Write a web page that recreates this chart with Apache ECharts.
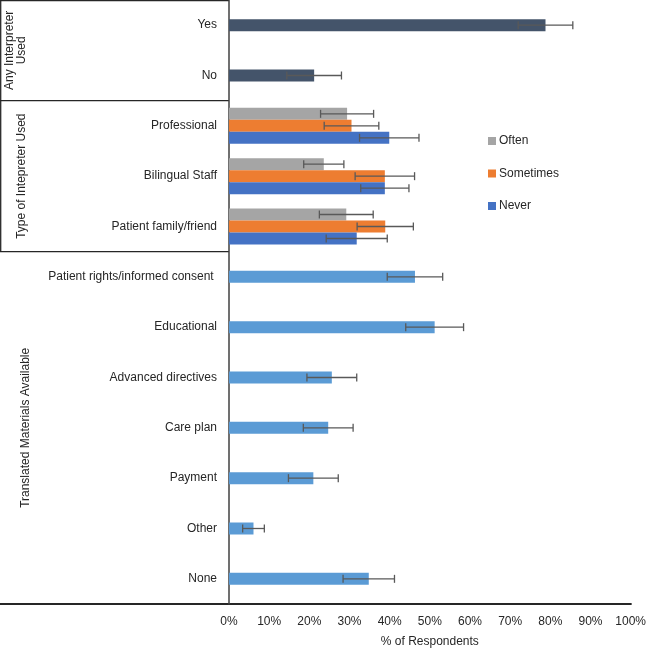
<!DOCTYPE html>
<html>
<head>
<meta charset="utf-8">
<script src="https://cdn.jsdelivr.net/npm/echarts@6/dist/echarts.min.js"></script>
<style>html,body{margin:0;padding:0;background:#fff;}#c{width:649px;height:653px;}</style>
</head>
<body>
<div id="c"></div>
<script>
// ---- data ----
var categories = ['Yes', 'No', 'Professional', 'Bilingual Staff', 'Patient family/friend',
  'Patient rights/informed consent ', 'Educational', 'Advanced directives', 'Care plan', 'Payment', 'Other', 'None'];
var anyValues = [78.8, 21.2];
var anyErr = [6.8, 6.8];
var oftenValues = [29.4, 23.6, 29.2];
var oftenErr = [6.6, 5.0, 6.7];
var sometimesValues = [30.5, 38.8, 38.9];
var sometimesErr = [6.8, 7.4, 7.0];
var neverValues = [39.9, 38.8, 31.8];
var neverErr = [7.4, 6.0, 7.6];
var materialsValues = [46.3, 51.2, 25.6, 24.7, 21.0, 6.1, 34.8];
var materialsErr = [6.9, 7.2, 6.2, 6.2, 6.2, 2.7, 6.4];
var xTicks = [0, 10, 20, 30, 40, 50, 60, 70, 80, 90, 100];

var FONT = 'Liberation Sans';
var TXT = '#262626';
var C_ANY = '#44546A', C_OFTEN = '#A5A5A5', C_SOME = '#ED7D31', C_NEVER = '#4472C4', C_MAT = '#5B9BD5';

// build series arrays (12 rows)
function emptyRow() { return categories.map(function () { return '-'; }); }
var topSlot = emptyRow(), midSlot = emptyRow(), botSlot = emptyRow();
var errTop = [], errMid = [], errBot = [];
anyValues.forEach(function (v, i) {
  midSlot[i] = { value: v, itemStyle: { color: C_ANY } };
  errMid.push([v - anyErr[i], v + anyErr[i], i]);
});
oftenValues.forEach(function (v, i) { topSlot[2 + i] = v; errTop.push([v - oftenErr[i], v + oftenErr[i], 2 + i]); });
sometimesValues.forEach(function (v, i) { midSlot[2 + i] = v; errMid.push([v - sometimesErr[i], v + sometimesErr[i], 2 + i]); });
neverValues.forEach(function (v, i) { botSlot[2 + i] = v; errBot.push([v - neverErr[i], v + neverErr[i], 2 + i]); });
materialsValues.forEach(function (v, i) {
  midSlot[5 + i] = { value: v, itemStyle: { color: C_MAT } };
  errMid.push([v - materialsErr[i], v + materialsErr[i], 5 + i]);
});

var BAR_W = 12;
function errSeries(data, offset) {
  return {
    type: 'custom', silent: true, z: 5,
    data: data, encode: { x: [0, 1], y: 2 },
    renderItem: function (params, api) {
      var p1 = api.coord([api.value(0), api.value(2)]);
      var p2 = api.coord([api.value(1), api.value(2)]);
      var y = p1[1] + offset;
      var st = { stroke: '#595959', lineWidth: 1.3 };
      return { type: 'group', children: [
        { type: 'line', shape: { x1: p1[0], y1: y, x2: p2[0], y2: y }, style: st },
        { type: 'line', shape: { x1: p1[0], y1: y - 4, x2: p1[0], y2: y + 4 }, style: st },
        { type: 'line', shape: { x1: p2[0], y1: y - 4, x2: p2[0], y2: y + 4 }, style: st }
      ]};
    }
  };
}

var chart = echarts.init(document.getElementById('c'));
var option = {
  animation: false,
  backgroundColor: '#fff',
  textStyle: { fontFamily: FONT },
  grid: { left: 229, right: 15, top: 0, bottom: 46 },
  legend: {
    data: ['Often', 'Sometimes', 'Never'],
    orient: 'vertical', left: 483, top: 130,
    itemWidth: 8, itemHeight: 8, itemGap: 20.5,
    textStyle: { fontFamily: FONT, fontSize: 12, color: TXT, padding: [0, 0, 0, -2] },
    icon: 'rect', selectedMode: false
  },
  xAxis: {
    type: 'value', min: 0, max: 100, interval: 10,
    axisLine: { show: false }, axisTick: { show: false }, splitLine: { show: false },
    axisLabel: { formatter: '{value}%', fontFamily: FONT, fontSize: 12, color: TXT, margin: 12 },
    name: '% of Respondents', nameLocation: 'middle', nameGap: 32,
    nameTextStyle: { fontFamily: FONT, fontSize: 12, color: TXT }
  },
  yAxis: {
    type: 'category', data: categories, inverse: true,
    axisLine: { show: true, lineStyle: { color: '#404040', width: 1.5 } },
    axisTick: { show: false },
    axisLabel: { fontFamily: FONT, fontSize: 12, color: TXT, margin: 12 }
  },
  series: [
    { name: 'Often', type: 'bar', data: topSlot, barWidth: BAR_W, barGap: '0%', itemStyle: { color: C_OFTEN } },
    { name: 'Sometimes', type: 'bar', data: midSlot, barWidth: BAR_W, barGap: '0%', itemStyle: { color: C_SOME } },
    { name: 'Never', type: 'bar', data: botSlot, barWidth: BAR_W, barGap: '0%', itemStyle: { color: C_NEVER } },
    errSeries(errTop, -BAR_W),
    errSeries(errMid, 0),
    errSeries(errBot, BAR_W)
  ]
};
chart.setOption(option);

// frame lines from axis coordinates
function yPix(i) { return chart.convertToPixel({ yAxisIndex: 0 }, categories[i]); }
var d1 = (yPix(1) + yPix(2)) / 2;
var d2 = (yPix(4) + yPix(5)) / 2;
var x0 = chart.convertToPixel({ xAxisIndex: 0 }, 0);
var rect = chart.getModel().getComponent('grid').coordinateSystem.getRect();
var gy = rect.y + rect.height;
var ls = { stroke: '#262626', lineWidth: 1.3 };
chart.setOption({
  graphic: [
    { type: 'line', shape: { x1: 0, y1: 0.7, x2: x0, y2: 0.7 }, style: ls },
    { type: 'line', shape: { x1: 0.7, y1: 0, x2: 0.7, y2: d2 }, style: ls },
    { type: 'line', shape: { x1: 0, y1: d1, x2: x0, y2: d1 }, style: ls },
    { type: 'line', shape: { x1: 0, y1: d2, x2: x0, y2: d2 }, style: ls },
    { type: 'line', shape: { x1: 0, y1: gy, x2: rect.x + rect.width + 1, y2: gy }, style: { stroke: '#262626', lineWidth: 2 } },
    { type: 'text', x: 16, y: d1 / 2, rotation: Math.PI / 2,
      style: { text: 'Any Interpreter\nUsed', fill: TXT, font: '12px ' + FONT, align: 'center', verticalAlign: 'middle', lineHeight: 12 } },
    { type: 'text', x: 22, y: (d1 + d2) / 2, rotation: Math.PI / 2,
      style: { text: 'Type of Intepreter Used', fill: TXT, font: '12px ' + FONT, align: 'center', verticalAlign: 'middle' } },
    { type: 'text', x: 26, y: (d2 + gy) / 2, rotation: Math.PI / 2,
      style: { text: 'Translated Materials Available', fill: TXT, font: '12px ' + FONT, align: 'center', verticalAlign: 'middle' } }
  ]
});
</script>
</body>
</html>
